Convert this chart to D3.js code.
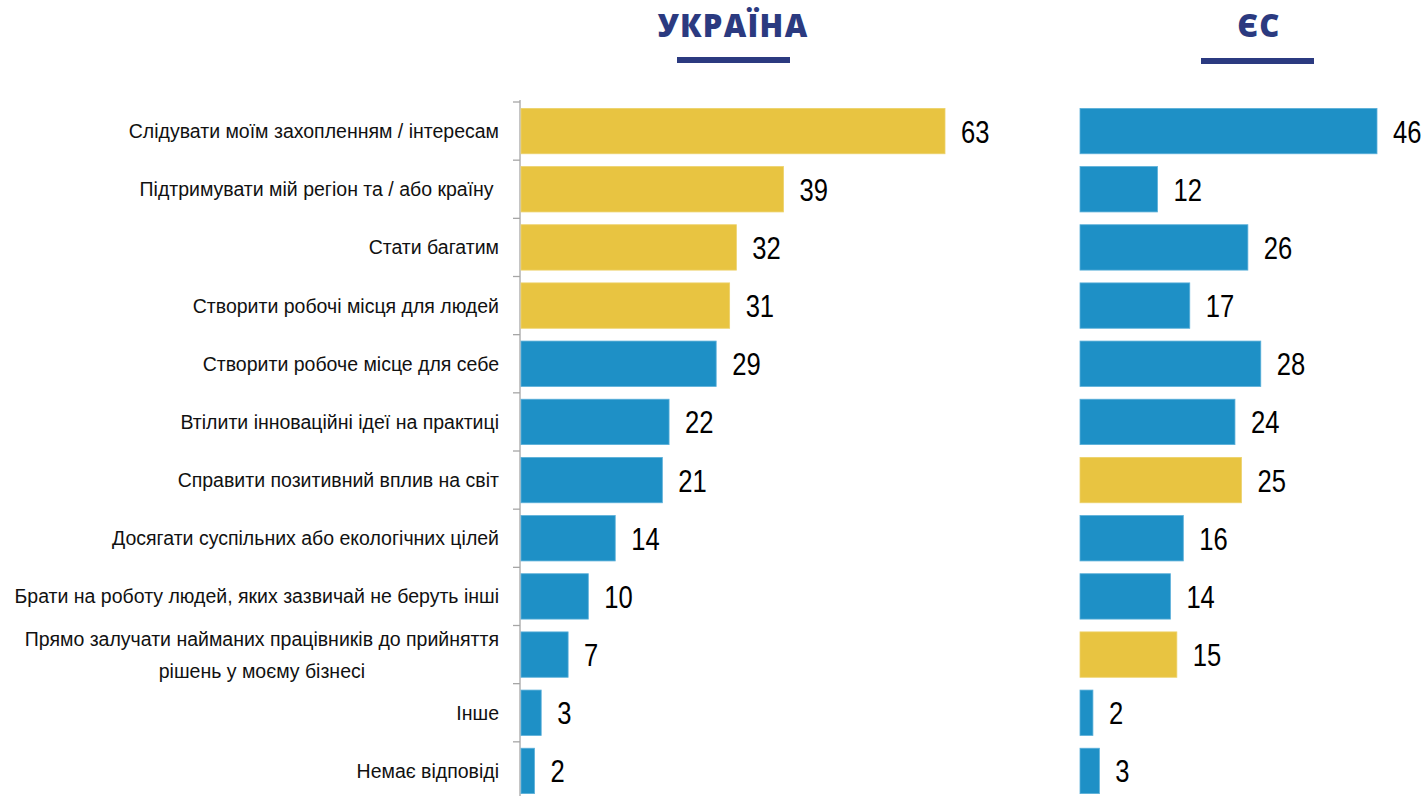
<!DOCTYPE html>
<html lang="uk">
<head>
<meta charset="UTF-8">
<title>Україна / ЄС</title>
<script src="https://d3js.org/d3.v7.min.js"></script>
<style>
    body { margin: 0; background: #fff; }
    svg { display: block; }
    .cat { font-family: 'Liberation Sans', Arial, sans-serif; font-size: 19.5px; fill: #111; white-space: pre; }
    .val { font-family: 'Liberation Sans', Arial, sans-serif; font-size: 32px; fill: #000; }
    .title { font-family: 'Open Sans', Arial, sans-serif; font-weight: 800; font-size: 31px; fill: #2b3a80; letter-spacing: 1.3px; }
</style>
</head>
<body>
<svg width="1427" height="796"></svg>
<script>
// categories, top to bottom
const categories = [
    ["Слідувати моїм захопленням / інтересам"],
    ["Підтримувати мій регіон та / або країну "],
    ["Стати багатим"],
    ["Створити робочі місця для людей"],
    ["Створити робоче місце для себе"],
    ["Втілити інноваційні ідеї на практиці"],
    ["Справити позитивний вплив на світ"],
    ["Досягати суспільних або екологічних цілей"],
    ["Брати на роботу людей, яких зазвичай не беруть інші"],
    ["Прямо залучати найманих працівників до прийняття", "рішень у моєму бізнесі"],
    ["Інше"],
    ["Немає відповіді"]
];
const ukraine = [63, 39, 32, 31, 29, 22, 21, 14, 10, 7, 3, 2];
const eu = [46, 12, 26, 17, 28, 24, 25, 16, 14, 15, 2, 3];
// rows shown in yellow
const ukraineHighlight = [0, 1, 2, 3];
const euHighlight = [6, 9];

const YELLOW = "#e8c441", BLUE = "#1e90c6", NAVY = "#2b3a80";

const svg = d3.select("svg");
const ids = categories.map((d, i) => i);

const y = d3.scaleBand().domain(ids).range([102, 800]).paddingInner(0.22).paddingOuter(0.11);
const xUa = d3.scaleLinear().domain([0, 63]).range([521, 945]);
const xEu = d3.scaleLinear().domain([0, 46]).range([1080, 1377]);

// titles
const titles = [
    { text: "УКРАЇНА", cx: 733, lineX: 677, lineY: 57 },
    { text: "ЄС", cx: 1259, lineX: 1201, lineY: 58 }
];
titles.forEach(t => {
    svg.append("text").attr("class", "title")
        .attr("x", t.cx).attr("y", 37)
        .attr("text-anchor", "middle")
        .text(t.text);
    svg.append("rect")
        .attr("x", t.lineX).attr("y", t.lineY)
        .attr("width", 113).attr("height", 6)
        .attr("fill", NAVY);
});

// category axis (Ukraine side)
const axis = d3.axisLeft(y).tickSize(0).tickFormat("");
const axisG = svg.append("g").attr("transform", "translate(520,0)").call(axis);
axisG.select(".domain").attr("stroke", "#a6a6a6").attr("stroke-width", 1.3)
    .attr("d", "M0,100V796");
// boundary ticks between rows
const step = y.step();
axisG.selectAll(".bound")
    .data(d3.range(categories.length + 1))
    .enter().append("line")
    .attr("class", "bound")
    .attr("x1", -7).attr("x2", 0)
    .attr("y1", i => y.range()[0] + i * step)
    .attr("y2", i => y.range()[0] + i * step)
    .attr("stroke", "#a6a6a6").attr("stroke-width", 1.3);

// category labels
const labels = svg.append("g").selectAll("text")
    .data(ids)
    .enter().append("text")
    .attr("class", "cat")
    .attr("text-anchor", "end")
    .attr("x", 499)
    .attr("y", i => y(i) + y.bandwidth() / 2);
labels.each(function (i) {
    const lines = categories[i];
    const el = d3.select(this);
    const lh = 32;
    lines.forEach((line, k) => {
        el.append("tspan")
            .attr("x", 499)
            .attr("dy", k === 0 ? (-(lines.length - 1) * lh / 2 + 7) : lh)
            .text(line);
    });
});
// centre the second line of a two-line label under the first
labels.filter(i => categories[i].length > 1).each(function () {
    const tsp = d3.select(this).selectAll("tspan").nodes();
    const w0 = tsp[0].getComputedTextLength();
    tsp.slice(1).forEach(n => {
        d3.select(n).attr("text-anchor", "middle").attr("x", 499 - w0 / 2);
    });
});

function drawSeries(values, x, highlight) {
    const g = svg.append("g");
    g.selectAll("rect")
        .data(values)
        .enter().append("rect")
        .attr("x", x(0))
        .attr("y", (d, i) => y(i))
        .attr("width", d => x(d) - x(0))
        .attr("height", y.bandwidth())
        .attr("fill", (d, i) => highlight.includes(i) ? YELLOW : BLUE)
        .attr("stroke", (d, i) => highlight.includes(i) ? "#edd26a" : "#5aafd9")
        .attr("stroke-width", 0.8);
    // narrow digits: regular face squeezed horizontally
    g.selectAll("text")
        .data(values)
        .enter().append("text")
        .attr("class", "val")
        .attr("transform", (d, i) =>
            `translate(${x(d) + 16},${y(i) + y.bandwidth() / 2 + 11.5}) scale(0.8,1)`)
        .text(d => d);
}

drawSeries(ukraine, xUa, ukraineHighlight);
drawSeries(eu, xEu, euHighlight);
</script>
</body>
</html>
